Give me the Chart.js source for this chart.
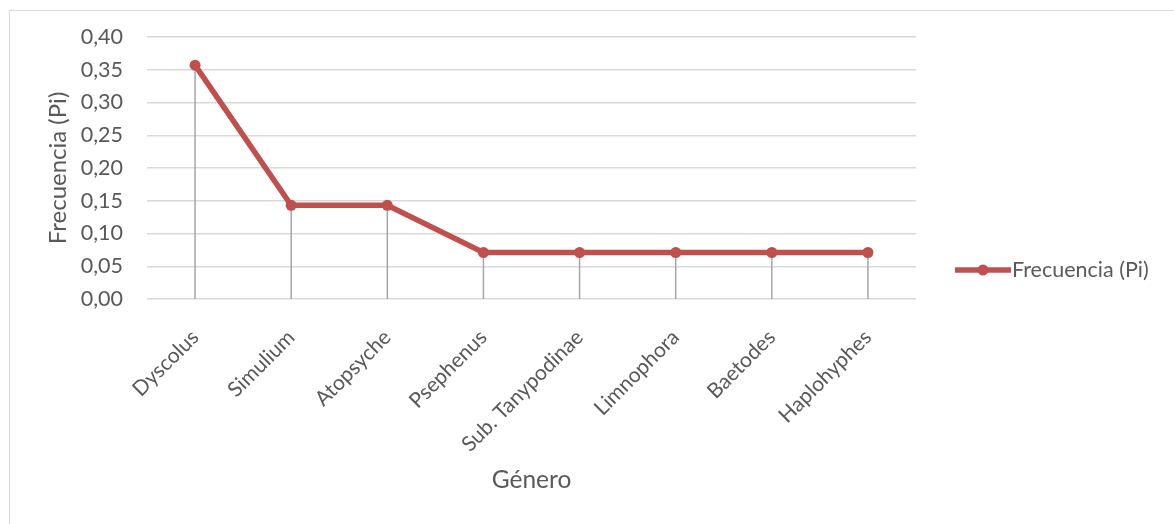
<!DOCTYPE html>
<html>
<head>
<meta charset="utf-8">
<script src="https://cdn.jsdelivr.net/npm/chart.js@4"></script>
<style>
    html, body { margin: 0; padding: 0; background: #ffffff; }
    #wrap { position: relative; width: 1174px; height: 524px; }
    #frame {
        position: absolute; left: 9px; top: 10px; right: 0; bottom: 0;
        border-top: 1px solid #d9d9d9; border-left: 1px solid #d9d9d9;
    }
    #grafico { position: absolute; left: 0; top: 0; }
</style>
</head>
<body>
<div id="wrap">
    <div id="frame"></div>
    <canvas id="grafico" width="1174" height="524"></canvas>
</div>
<script>
const generos = ["Dyscolus", "Simulium", "Atopsyche", "Psephenus", "Sub. Tanypodinae", "Limnophora", "Baetodes", "Haplohyphes"];
const frecuencia = [0.357, 0.143, 0.143, 0.071, 0.071, 0.071, 0.071, 0.071];
const serieNombre = "Frecuencia (Pi)";
const ejeX = "Género";
const ejeY = "Frecuencia (Pi)";

const rojo = "#c0504d";
const gris = "#595959";
const fuente = "Lato";

// vertical lines from every point down to the category axis
const dropLines = {
    id: "dropLines",
    beforeDatasetsDraw(chart) {
        const ctx = chart.ctx;
        const meta = chart.getDatasetMeta(0);
        const base = chart.scales.y.getPixelForValue(0);
        ctx.save();
        ctx.strokeStyle = "#a6a6a6";
        ctx.lineWidth = 1.5;
        for (let point of meta.data) {
            ctx.beginPath();
            ctx.moveTo(point.x, point.y);
            ctx.lineTo(point.x, base);
            ctx.stroke();
        }
        ctx.restore();
    },
};

// single legend entry to the right of the plot
const leyenda = {
    id: "leyenda",
    afterDraw(chart) {
        const ctx = chart.ctx;
        const area = chart.chartArea;
        const ds = chart.data.datasets[0];
        const x = area.right + 39;
        const y = area.bottom - 29;
        ctx.save();
        ctx.strokeStyle = ds.borderColor;
        ctx.lineWidth = ds.borderWidth;
        ctx.beginPath();
        ctx.moveTo(x, y);
        ctx.lineTo(x + 56, y);
        ctx.stroke();
        ctx.fillStyle = ds.borderColor;
        ctx.beginPath();
        ctx.arc(x + 28, y, ds.pointRadius, 0, Math.PI * 2);
        ctx.fill();
        ctx.fillStyle = gris;
        ctx.font = `21.5px ${fuente}`;
        ctx.textBaseline = "middle";
        ctx.fillText(ds.label, x + 57, y);
        ctx.restore();
    },
};

new Chart(document.getElementById("grafico"), {
    type: "line",
    data: {
        labels: generos,
        datasets: [
            {
                label: serieNombre,
                data: frecuencia,
                borderColor: rojo,
                backgroundColor: rojo,
                borderWidth: 5.5,
                pointRadius: 5.5,
                pointBorderWidth: 0,
                pointBackgroundColor: rojo,
                tension: 0,
                fill: false,
            },
        ],
    },
    options: {
        responsive: false,
        animation: false,
        layout: {
            padding: { left: 40, top: 37, right: 258, bottom: 25 },
        },
        plugins: {
            legend: { display: false },
            tooltip: { enabled: false },
        },
        scales: {
            x: {
                offset: true,
                afterFit: (scale) => { scale.height = 200; },
                grid: { display: false, drawTicks: false },
                border: { display: false },
                ticks: {
                    color: gris,
                    font: { family: fuente, size: 21 },
                    minRotation: 45,
                    maxRotation: 45,
                    padding: 26,
                    autoSkip: false,
                },
                title: {
                    display: true,
                    text: ejeX,
                    color: gris,
                    font: { family: fuente, size: 24.5 },
                },
            },
            y: {
                min: 0,
                max: 0.4,
                afterFit: (scale) => { scale.width = 107; },
                grid: { color: "#d9d9d9", lineWidth: 1.5, drawTicks: false },
                border: { display: false },
                ticks: {
                    stepSize: 0.05,
                    color: gris,
                    font: { family: fuente, size: 21.5 },
                    padding: 24,
                    callback: (v) => v.toFixed(2).replace(".", ","),
                },
                title: {
                    display: true,
                    text: ejeY,
                    color: gris,
                    font: { family: fuente, size: 24 },
                },
            },
        },
    },
    plugins: [dropLines, leyenda],
});
</script>
</body>
</html>
